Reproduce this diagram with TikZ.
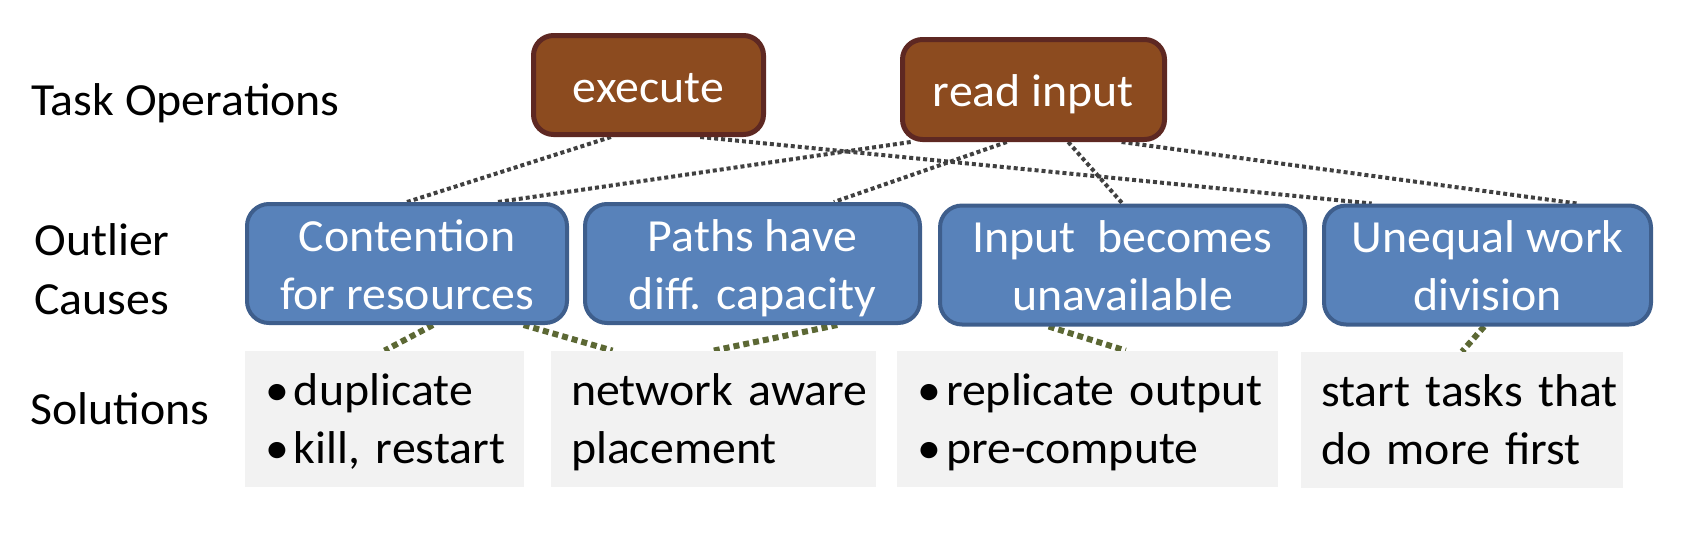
\documentclass[tikz,border=0pt]{standalone}
\usepackage{fontspec}
\setmainfont{Carlito}[FakeStretch=1.04]
\usetikzlibrary{calc,backgrounds}
\definecolor{opfill}{RGB}{140,75,31}
\definecolor{opdraw}{RGB}{94,40,34}
\definecolor{causefill}{RGB}{88,130,186}
\definecolor{causedraw}{RGB}{62,94,140}
\definecolor{solfill}{RGB}{242,242,242}
\definecolor{blackdot}{RGB}{64,64,64}
\definecolor{greendot}{RGB}{92,104,52}
\newcommand{\solbullet}{\makebox[14.5pt][l]{•}}
\newcommand{\causetop}{\rule{0pt}{23.5pt}}
\newcommand{\causebot}{\rule[-7pt]{0pt}{7pt}}
\newcommand{\soltop}{\rule{0pt}{22pt}}
\newcommand{\solbot}{\rule[-7pt]{0pt}{7pt}}
\begin{document}
\begin{tikzpicture}[x=0.5pt,y=-0.5pt,font=\fontsize{23}{29}\selectfont,
  opbox/.style={draw=opdraw,line width=2.5pt,fill=opfill,rounded corners=10pt,
    text=white,inner sep=0pt,text height=20pt,text depth=3pt},
  causebox/.style={draw=causedraw,line width=2pt,fill=causefill,rounded corners=11pt,
    text=white,inner sep=0pt,align=center,minimum height=53.5pt},
  solbox/.style={fill=solfill,inner xsep=10pt,inner ysep=0pt,align=left,
    text=black,minimum height=68pt},
  rowlabel/.style={anchor=base west,inner sep=0pt,text=black},
  opline/.style={draw=blackdot,line width=2pt,dash pattern=on 2pt off 1.5pt},
  solline/.style={draw=greendot,line width=3pt,dash pattern=on 3pt off 2pt}]
\useasboundingbox (0,0) rectangle (1702,542);

% row labels
\node[rowlabel] (lto) at (31,115) {Task Operations};
\node[rowlabel] (loc1) at (34,255) {Outlier};
\node[rowlabel] (loc2) at (34,314) {Causes};
\node[rowlabel] (lsol) at (30,424) {Solutions};

% task operations
\node[opbox,minimum width=115pt,minimum height=49.5pt] (exec) at (648.5,85) {execute};
\node[opbox,minimum width=131pt,minimum height=50pt] (read) at (1033.5,89.5) {read input};

% outlier causes
\node[causebox,minimum width=160pt] (cont) at (407,263.5)
  {\causetop Contention\\for resources\causebot};
\node[causebox,minimum width=167.5pt] (paths) at (752.5,263.5)
  {\causetop Paths have\\diff. capacity\causebot};
\node[causebox,minimum width=182.5pt,minimum height=54pt] (input) at (1122.5,265)
  {\causetop Input\ \ becomes\\unavailable\causebot};
\node[causebox,minimum width=163.5pt,minimum height=54pt] (uneq) at (1487.5,265)
  {\causetop Unequal work\\division\causebot};

% solutions
\node[solbox,text width=119.5pt] (sol1) at (384.5,419)
  {\soltop\mbox{\solbullet duplicate}\\\mbox{\solbullet kill, restart}\solbot};
\node[solbox,text width=142.5pt] (sol2) at (713.5,419)
  {\soltop\mbox{network aware}\\\mbox{placement}\solbot};
\node[solbox,text width=170.5pt] (sol3) at (1087.5,419)
  {\soltop\mbox{\solbullet replicate output}\\\mbox{\solbullet pre-compute}\solbot};
\node[solbox,text width=141pt] (sol4) at (1462,420)
  {\soltop\mbox{start tasks that}\\\mbox{do more first}\solbot};

% connectors
\begin{scope}[on background layer]
\draw[opline] ($(exec.south west)!0.34!(exec.south east)$) -- ($(cont.north west)!0.50!(cont.north east)$);
\draw[opline] ($(exec.south west)!0.72!(exec.south east)$) -- ($(uneq.north west)!0.15!(uneq.north east)$);
\draw[opline] ($(read.south west)!0.04!(read.south east)$) -- ($(cont.north west)!0.78!(cont.north east)$);
\draw[opline] ($(read.south west)!0.40!(read.south east)$) -- ($(paths.north west)!0.74!(paths.north east)$);
\draw[opline] ($(read.south west)!0.63!(read.south east)$) -- ($(input.north west)!0.50!(input.north east)$);
\draw[opline] ($(read.south west)!0.83!(read.south east)$) -- ($(uneq.north west)!0.77!(uneq.north east)$);

\draw[solline] ($(cont.south west)!0.58!(cont.south east)$) -- ($(sol1.north west)!0.50!(sol1.north east)$);
\draw[solline] ($(cont.south west)!0.86!(cont.south east)$) -- ($(sol2.north west)!0.19!(sol2.north east)$);
\draw[solline] ($(paths.south west)!0.75!(paths.south east)$) -- ($(sol2.north west)!0.50!(sol2.north east)$);
\draw[solline] ($(input.south west)!0.30!(input.south east)$) -- ($(sol3.north west)!0.60!(sol3.north east)$);
\draw[solline] ($(uneq.south west)!0.49!(uneq.south east)$) -- ($(sol4.north west)!0.50!(sol4.north east)$);
\end{scope}
\end{tikzpicture}
\end{document}
